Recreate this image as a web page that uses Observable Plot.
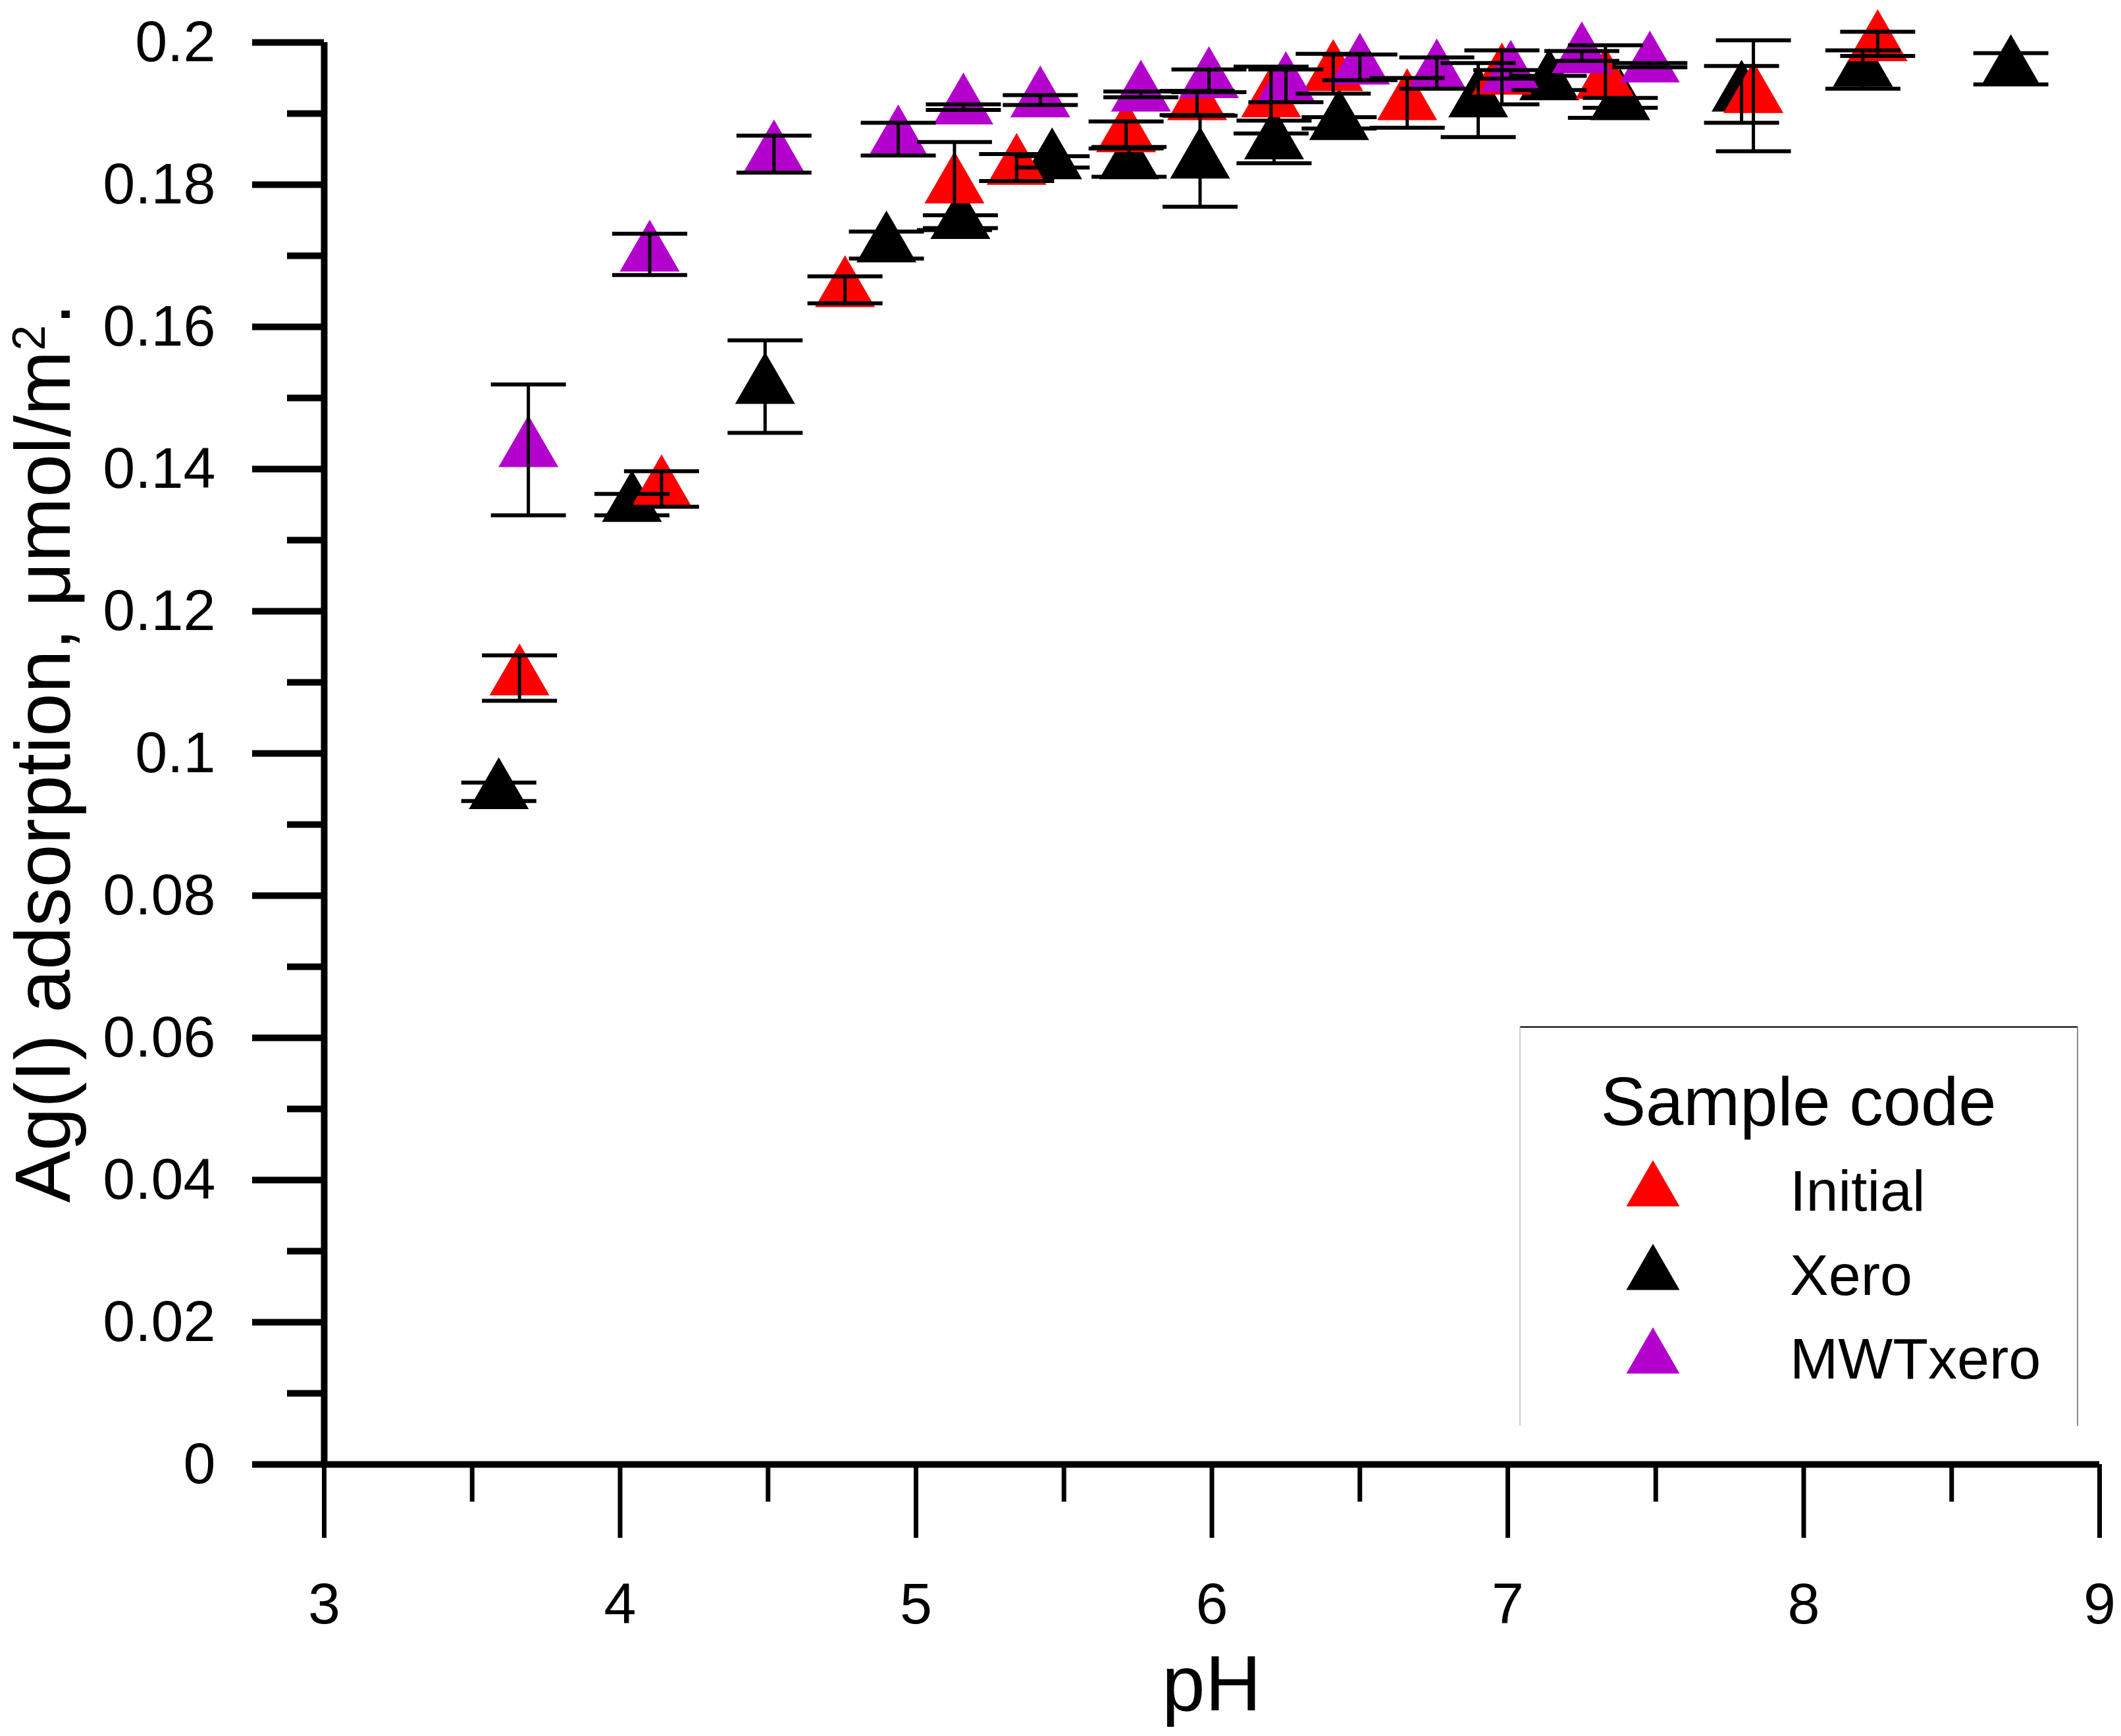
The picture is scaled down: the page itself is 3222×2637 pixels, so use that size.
<!DOCTYPE html>
<html>
<head>
<meta charset="utf-8">
<script src="https://cdn.jsdelivr.net/npm/d3@7"></script>
<script src="https://cdn.jsdelivr.net/npm/@observablehq/plot@0.6"></script>
<style>
  html, body { margin: 0; padding: 0; background: white; overflow: hidden; }
  #chart { width: 3222px; height: 2637px; }
</style>
</head>
<body>
<div id="chart"></div>
<script>
// ---- data ----
const seriesNames = ["Initial", "Xero", "MWTxero"];
const seriesColors = ["#ff0000", "#000000", "#b300cc"];

const phInitial  = [3.66, 4.14, 4.76, 5.13, 5.34, 5.71, 5.95, 6.20, 6.41, 6.66, 6.98, 7.33, 7.83, 8.25];
const adsInitial = [0.1106, 0.1372, 0.1652, 0.1798, 0.1824, 0.1870, 0.1915, 0.1919, 0.1956, 0.1915, 0.1951, 0.1945, 0.1925, 0.1998];
const errInitial = [0.0032, 0.0025, 0.0019, 0.0062, 0.0019, 0.0019, 0.0017, 0.0047, 0.0028, 0.0035, 0.0038, 0.0051, 0.0078, 0.0017];

const phXero  = [3.59, 4.04, 4.49, 4.90, 5.15, 5.46, 5.72, 5.96, 6.21, 6.43, 6.90, 7.14, 7.38, 7.79, 8.20, 8.70];
const adsXero = [0.0946, 0.1350, 0.1516, 0.1715, 0.1748, 0.1832, 0.1832, 0.1833, 0.1860, 0.1887, 0.1919, 0.1943, 0.1915, 0.1927, 0.1962, 0.1963];
const errXero = [0.0013, 0.0015, 0.0065, 0.0019, 0.0009, 0.0008, 0.0021, 0.0064, 0.0030, 0.0008, 0.0052, 0.0010, 0.0007, 0.0040, 0.0027, 0.0022];

const phMWT  = [3.69, 4.10, 4.52, 4.94, 5.16, 5.42, 5.76, 5.99, 6.25, 6.50, 6.76, 7.01, 7.25, 7.48];
const adsMWT = [0.1427, 0.1702, 0.1843, 0.1864, 0.1909, 0.1919, 0.1927, 0.1946, 0.1939, 0.1965, 0.1957, 0.1955, 0.1981, 0.1968];
const errMWT = [0.0092, 0.0029, 0.0026, 0.0023, 0.0004, 0.0007, 0.0004, 0.0016, 0.0023, 0.0018, 0.0022, 0.0006, 0.0007, 0.0003];

const xMajorTicks = [3, 4, 5, 6, 7, 8, 9];
const xMinorTicks = [3.5, 4.5, 5.5, 6.5, 7.5, 8.5];
const yMajorTicks = [0, 0.02, 0.04, 0.06, 0.08, 0.1, 0.12, 0.14, 0.16, 0.18, 0.2];
const yMinorTicks = [0.01, 0.03, 0.05, 0.07, 0.09, 0.11, 0.13, 0.15, 0.17, 0.19];

const xLabel = "pH";
const yLabelMain = "Ag(I) adsorption, μmol/m";
const yLabelSup = "2";
const yLabelEnd = ".";
const legendTitle = "Sample code";

// ---- build table ----
function rows(name, ph, ads, err) {
  return ph.map((p, i) => ({ series: name, ph: p, v: ads[i], e: err[i] }));
}
// drawing order: Xero, Initial, MWTxero
const data = [
  ...rows("Xero", phXero, adsXero, errXero),
  ...rows("Initial", phInitial, adsInitial, errInitial),
  ...rows("MWTxero", phMWT, adsMWT, errMWT)
];

const FONT = "'Liberation Sans', Arial, Helvetica, sans-serif";
const W = 3222, H = 2637;
const mL = 492, mR = 33, mT = 64, mB = 413;

const capSymbol = {
  draw(ctx) { ctx.moveTo(-57, 0); ctx.lineTo(57, 0); }
};

const tickFmt = d => String(+d.toFixed(2));

const plot = Plot.plot({
  width: W,
  height: H,
  marginLeft: mL,
  marginRight: mR,
  marginTop: mT,
  marginBottom: mB,
  style: { fontFamily: FONT, background: "white", color: "black" },
  x: { domain: [3, 9] },
  y: { domain: [0, 0.2] },
  color: { domain: seriesNames, range: seriesColors },
  marks: [
    // axes
    Plot.axisY({ ticks: yMinorTicks, tickSize: 56, strokeWidth: 10, text: null, label: null }),
    Plot.axisY({ ticks: yMajorTicks, tickSize: 109, tickPadding: 56, strokeWidth: 10,
                 tickFormat: tickFmt, fontSize: 88, label: null }),
    Plot.axisX({ ticks: xMinorTicks, tickSize: 57, strokeWidth: 7, text: null, label: null }),
    Plot.axisX({ ticks: xMajorTicks, tickSize: 112, tickPadding: 67, strokeWidth: 7,
                 tickFormat: d => String(d), fontSize: 88, label: null }),
    Plot.ruleX([3], { stroke: "black", strokeWidth: 10 }),
    Plot.ruleY([0], { stroke: "black", strokeWidth: 10 }),
    // symbols
    Plot.dot(data, { x: "ph", y: "v", fill: "series", symbol: "triangle", r: 33.8, stroke: null }),
    // error bars
    Plot.ruleX(data, { x: "ph", y1: d => d.v - d.e, y2: d => d.v + d.e, stroke: "black", strokeWidth: 5 }),
    Plot.dot(data, { x: "ph", y: d => d.v + d.e, symbol: capSymbol, r: 1, fill: "none", stroke: "black", strokeWidth: 6 }),
    Plot.dot(data, { x: "ph", y: d => d.v - d.e, symbol: capSymbol, r: 1, fill: "none", stroke: "black", strokeWidth: 6 })
  ]
});

document.getElementById("chart").appendChild(plot);

// ---- axis titles and legend ----
const svg = d3.select(plot);

svg.append("text")
  .attr("x", (mL + (W - mR)) / 2)
  .attr("y", 2598)
  .attr("text-anchor", "middle")
  .attr("font-family", FONT)
  .attr("font-size", 118)
  .attr("fill", "black")
  .text(xLabel);

const yt = svg.append("text")
  .attr("transform", `translate(106,${(mT + (H - mB)) / 2}) rotate(-90)`)
  .attr("text-anchor", "middle")
  .attr("font-family", FONT)
  .attr("font-size", 118)
  .attr("fill", "black");
yt.append("tspan").text(yLabelMain);
yt.append("tspan").attr("dy", -38).attr("font-size", 70).text(yLabelSup);
yt.append("tspan").attr("dy", 38).text(yLabelEnd);

// legend
const lg = svg.append("g").attr("text-anchor", "start");
const bx0 = 2309, bx1 = 3156, by0 = 1560, by1 = 2166;
lg.append("line").attr("x1", bx0).attr("x2", bx1).attr("y1", by0).attr("y2", by0)
  .attr("stroke", "black").attr("stroke-width", 2);
lg.append("line").attr("x1", bx0).attr("x2", bx0).attr("y1", by0).attr("y2", by1)
  .attr("stroke", "#bbbbbb").attr("stroke-width", 1.5);
lg.append("line").attr("x1", bx1).attr("x2", bx1).attr("y1", by0).attr("y2", by1)
  .attr("stroke", "#666666").attr("stroke-width", 1.5);
lg.append("text")
  .attr("x", 2732).attr("y", 1709)
  .attr("text-anchor", "middle")
  .attr("font-family", FONT).attr("font-size", 103).attr("fill", "black")
  .text(legendTitle);
const legendY = [1809, 1936, 2063];
const legendBase = [1839, 1967, 2094];
const triPath = d3.symbol(d3.symbolTriangle, 2843)();
seriesNames.forEach((name, i) => {
  lg.append("path")
    .attr("d", triPath)
    .attr("transform", `translate(2511,${legendY[i]})`)
    .attr("fill", seriesColors[i]);
  lg.append("text")
    .attr("x", 2719).attr("y", legendBase[i])
    .attr("text-anchor", "start")
    .attr("font-family", FONT).attr("font-size", 88).attr("fill", "black")
    .text(name);
});
</script>
</body>
</html>
